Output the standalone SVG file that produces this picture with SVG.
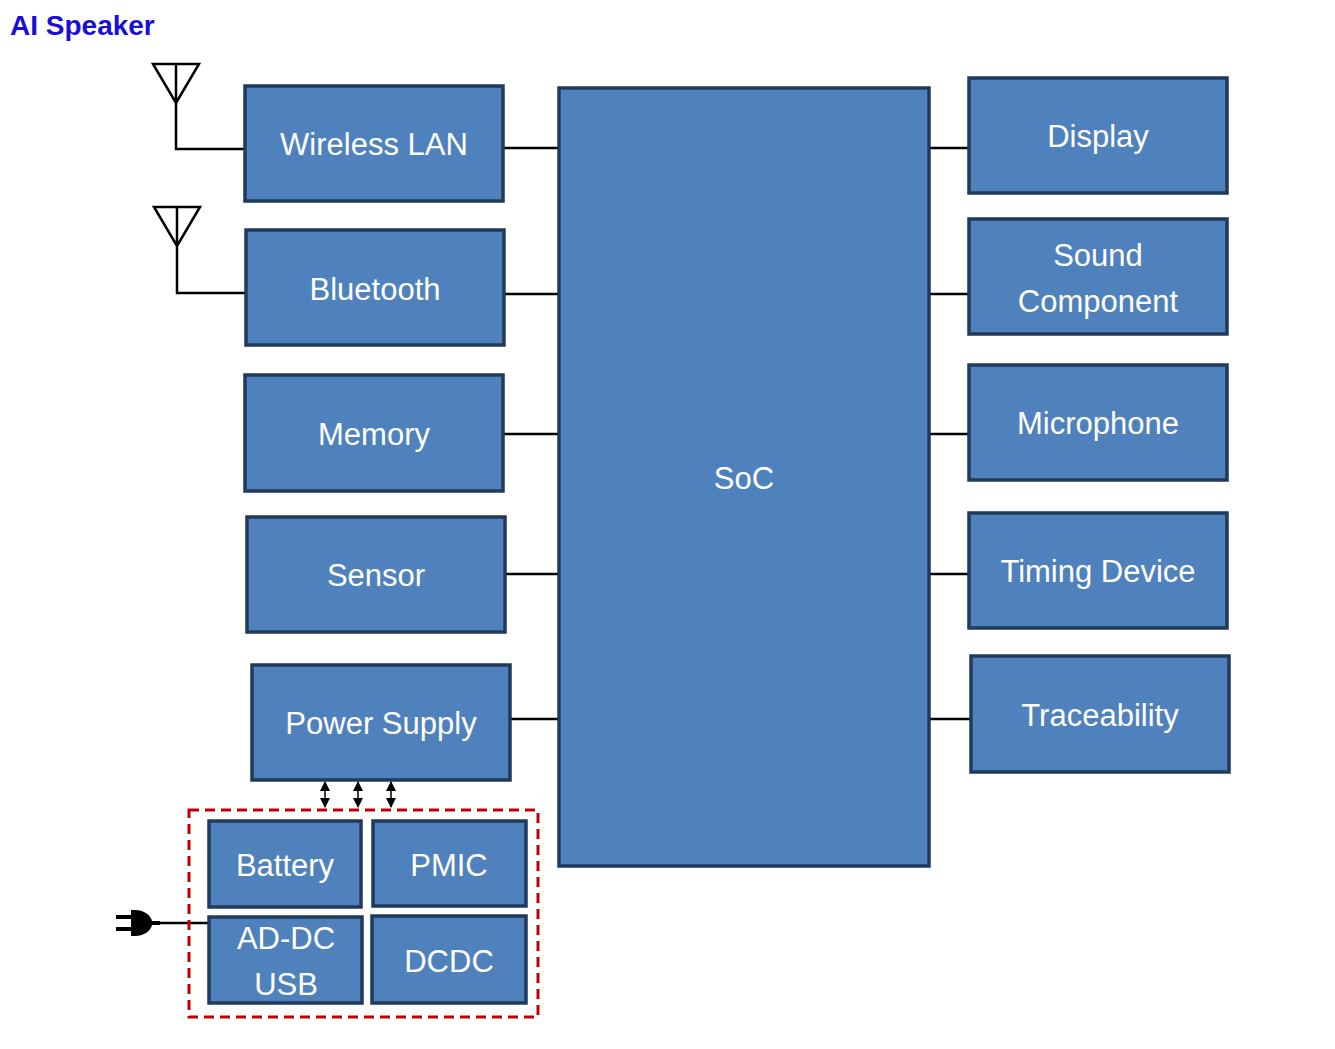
<svg xmlns="http://www.w3.org/2000/svg" width="1335" height="1049" viewBox="0 0 1335 1049">
<style>
.b{fill:#4f81bd;stroke:#1f3a5a;stroke-width:3.5}
.t{font-family:"Liberation Sans",Arial,sans-serif;font-size:31px;fill:#fff;text-anchor:middle}
.c{stroke:#000;stroke-width:2.5;fill:none}
.d{stroke:#000;stroke-width:1.5;fill:none}
</style>
<defs>
<marker id="a" viewBox="0 0 10 10" refX="9" refY="5" markerWidth="10" markerHeight="12" markerUnits="userSpaceOnUse" orient="auto-start-reverse"><path d="M0,0L10,5L0,10z" fill="#000"/></marker>
</defs>
<rect width="1335" height="1049" fill="#fff"/>
<text x="10" y="35" font-family="'Liberation Sans',Arial,sans-serif" font-weight="bold" font-size="28" fill="#1a0dd8">AI Speaker</text>
<g id="connectors">
<path class="c" d="M503,148H559M504,294H559M503,434H559M505,574H559M510,719H559"/>
<path class="c" d="M929,148H969M929,294H969M929,434H969M929,574H969M929,719H971"/>
<path class="c" d="M153,64H199L176,103ZM176,64V149H245"/>
<path class="c" d="M154,207H200L177,246ZM177,207V293H246"/>
<path class="c" d="M158,923H209"/>
<path d="M131,910h4c10,0 16,6 17,11h8v4h-8c-1,5-7,11-17,11h-4zM116,915h15v4h-15zM116,927h15v4h-15z" fill="#000"/>
<line class="d" x1="325" y1="782" x2="325" y2="807" marker-start="url(#a)" marker-end="url(#a)"/>
<line class="d" x1="358" y1="782" x2="358" y2="807" marker-start="url(#a)" marker-end="url(#a)"/>
<line class="d" x1="391" y1="782" x2="391" y2="807" marker-start="url(#a)" marker-end="url(#a)"/>
</g>
<rect x="189" y="810" width="349" height="207" fill="none" stroke="#c00000" stroke-width="3" stroke-dasharray="10,6"/>
<g id="wlan"><rect class="b" x="245" y="86" width="258" height="115"/><text class="t" x="374" y="155">Wireless LAN</text></g>
<g id="bt"><rect class="b" x="246" y="230" width="258" height="115"/><text class="t" x="375" y="300">Bluetooth</text></g>
<g id="mem"><rect class="b" x="245" y="375" width="258" height="116"/><text class="t" x="374" y="445">Memory</text></g>
<g id="sensor"><rect class="b" x="247" y="517" width="258" height="115"/><text class="t" x="376" y="586">Sensor</text></g>
<g id="power"><rect class="b" x="252" y="665" width="258" height="115"/><text class="t" x="381" y="734">Power Supply</text></g>
<g id="soc"><rect class="b" x="559" y="88" width="370" height="778"/><text class="t" x="744" y="489">SoC</text></g>
<g id="display"><rect class="b" x="969" y="78" width="258" height="115"/><text class="t" x="1098" y="147">Display</text></g>
<g id="sound"><rect class="b" x="969" y="219" width="258" height="115"/><text class="t" x="1098" y="266">Sound</text><text class="t" x="1098" y="312">Component</text></g>
<g id="mic"><rect class="b" x="969" y="365" width="258" height="115"/><text class="t" x="1098" y="434">Microphone</text></g>
<g id="timing"><rect class="b" x="969" y="513" width="258" height="115"/><text class="t" x="1098" y="582">Timing Device</text></g>
<g id="trace"><rect class="b" x="971" y="656" width="258" height="116"/><text class="t" x="1100" y="726">Traceability</text></g>
<g id="battery"><rect class="b" x="209" y="821" width="152" height="86"/><text class="t" x="285" y="876">Battery</text></g>
<g id="pmic"><rect class="b" x="373" y="821" width="153" height="85"/><text class="t" x="449" y="876">PMIC</text></g>
<g id="addc"><rect class="b" x="209" y="917" width="153" height="86"/><text class="t" x="286" y="949">AD-DC</text><text class="t" x="286" y="995">USB</text></g>
<g id="dcdc"><rect class="b" x="372" y="916" width="154" height="87"/><text class="t" x="449" y="972">DCDC</text></g>
</svg>
